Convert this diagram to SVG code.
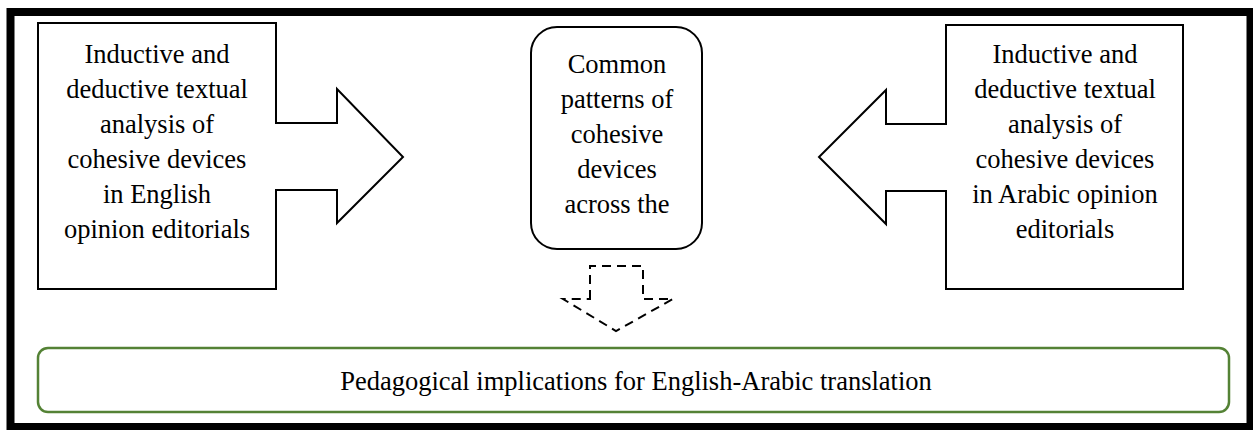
<svg xmlns="http://www.w3.org/2000/svg" width="1253" height="430" viewBox="0 0 1253 430">
  <style>
    text { font-family: 'Liberation Serif', 'Times New Roman', serif; font-size: 26.5px; fill: #000; text-anchor: middle; }
    .shape { fill: #fff; stroke: #000; stroke-width: 2; stroke-linejoin: miter; }
    .dashed { fill: none; stroke: #000; stroke-width: 2; stroke-dasharray: 9 6; }
    .green { fill: #fff; stroke: #548235; stroke-width: 2.5; }
  </style>

  <rect x="0" y="0" width="1253" height="430" fill="#fff"/>
  <!-- outer frame -->
  <rect x="10.5" y="12" width="1240" height="415" fill="none" stroke="#000" stroke-width="8"/>

  <g id="english-analysis">
    <path class="shape" d="M38,23 H276 V123 H337 V89 L403,157 L337,223 V190 H276 V289 H38 Z"/>
    <text x="157" y="63">Inductive and</text>
    <text x="157" y="98">deductive textual</text>
    <text x="157" y="133">analysis of</text>
    <text x="157" y="168">cohesive devices</text>
    <text x="157" y="203">in English</text>
    <text x="157" y="238">opinion editorials</text>
  </g>

  <g id="common-patterns">
    <rect class="shape" x="531" y="27" width="171" height="222" rx="26" ry="26"/>
    <text x="617" y="73">Common</text>
    <text x="617" y="108">patterns of</text>
    <text x="617" y="143">cohesive</text>
    <text x="617" y="178">devices</text>
    <text x="617" y="213">across the</text>
  </g>

  <g id="arabic-analysis">
    <path class="shape" d="M1183,25 H946 V124 H886 V90 L819,157 L886,224 V191 H946 V289 H1183 Z"/>
    <text x="1065" y="63">Inductive and</text>
    <text x="1065" y="98">deductive textual</text>
    <text x="1065" y="133">analysis of</text>
    <text x="1065" y="168">cohesive devices</text>
    <text x="1065" y="203">in Arabic opinion</text>
    <text x="1065" y="238">editorials</text>
  </g>

  <g id="connectors">
    <path class="dashed" d="M590,299 V266 H643 V299 H673 L616,331 L563,299 Z"/>
  </g>

  <g id="pedagogical-implications">
    <rect class="green" x="38" y="348" width="1191" height="64" rx="10" ry="10"/>
    <text x="636" y="390">Pedagogical implications for English-Arabic translation</text>
  </g>
</svg>
